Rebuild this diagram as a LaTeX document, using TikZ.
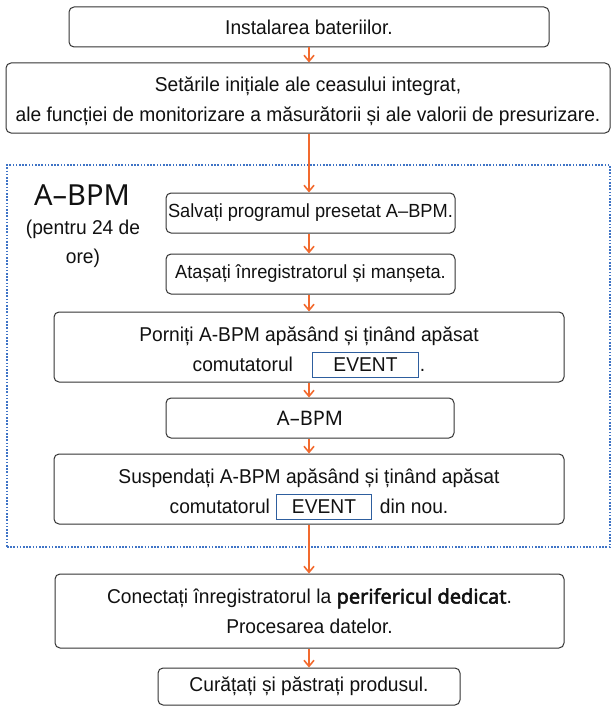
\documentclass[tikz,border=0pt]{standalone}
\usepackage{fontspec}
\setmainfont{Liberation Sans}[FakeStretch=0.96]
\newfontfamily\noto{Noto Sans}
\newfontfamily\notob{Noto Sans}[FakeBold=2.5]
\usetikzlibrary{arrows.meta}
\definecolor{arrorange}{HTML}{F26A2E}
\definecolor{dotblue}{HTML}{3F74C6}
\definecolor{evblue}{HTML}{2E5E9E}
\definecolor{txt}{HTML}{111111}
\newcommand\evbox[1]{{\setlength\fboxrule{1pt}\setlength\fboxsep{0pt}\fcolorbox{evblue}{white}{\makebox[#1pt]{\rule[-6pt]{0pt}{24pt}\fontsize{20}{24}\selectfont EVENT}}}}
\begin{document}
\begin{tikzpicture}[x=1pt,y=-1pt,
  box/.style={draw=black!80, line width=1pt, rounded corners=5pt, inner sep=0pt, align=center, text=txt, font=\fontsize{20}{30}\selectfont},
  twoline/.style={text height=48pt, text depth=0pt},
  flow/.style={draw=arrorange, line width=1.6pt, -{Straight Barb[length=6pt,width=10pt]}},
  grpbox/.style={draw=dotblue, line width=1.6pt, dash pattern=on 1.6pt off 1.6pt, inner sep=0pt},
  lbl/.style={text=txt, inner sep=0pt, align=center},
]
\useasboundingbox (0,0) rectangle (611,706);
\coordinate (ax) at (309,0);

\node[grpbox, minimum width=603pt, minimum height=382pt] (grp) at (308.5,356) {};

\node[box, minimum width=480pt, minimum height=40pt] (b1) at (309,27) {Instalarea bateriilor.};
\node[box, twoline, text height=47pt, minimum width=604pt, minimum height=70pt] (b2) at (308,98)
  {Setările inițiale ale ceasului integrat,\\ale funcției de monitorizare a măsurătorii și ale valorii de presurizare.};
\node[box, minimum width=289pt, minimum height=40pt, font=\fontsize{19}{30}\selectfont] (b3) at (310.5,213) {Salvați programul presetat A–BPM.};
\node[box, minimum width=289pt, minimum height=40pt, font=\fontsize{19}{30}\selectfont] (b4) at (310.5,274) {Atașați înregistratorul și manșeta.};
\node[box, twoline, minimum width=510pt, minimum height=70pt] (b5) at (309,347)
  {Porniți A-BPM apăsând și ținând apăsat\\comutatorul\hspace{19pt}\evbox{105}\hspace{1pt}.};
\node[box, minimum width=288pt, minimum height=40pt, font=\noto\fontsize{20}{24}\selectfont] (b6) at (310,418) {A–BPM};
\node[box, twoline, minimum width=510pt, minimum height=70pt] (b7) at (309,489)
  {Suspendați A-BPM apăsând și ținând apăsat\\comutatorul\hspace{6pt}\evbox{94}\hspace{8pt}din nou.};
\node[box, minimum width=509pt, minimum height=74pt] (b8) at (309.5,611)
  {Conectați înregistratorul la {\notob perifericul dedicat}.\\Procesarea datelor.};
\node[box, minimum width=302pt, minimum height=37pt] (b9) at (309,686.5) {Curățați și păstrați produsul.};

\node[lbl, font=\noto\fontsize{29}{30}\selectfont] (t1) at (82,195) {A–BPM};
\node[lbl, font=\fontsize{20}{24}\selectfont] (t2) at (83,229) {(pentru 24 de};
\node[lbl, font=\fontsize{20}{24}\selectfont] (t3) at (83,258) {ore)};

\draw[flow] (b1.south -| ax) -- (b2.north -| ax);
\draw[flow] (b2.south -| ax) -- (b3.north -| ax);
\draw[flow] (b3.south -| ax) -- (b4.north -| ax);
\draw[flow] (b4.south -| ax) -- (b5.north -| ax);
\draw[flow] (b5.south -| ax) -- (b6.north -| ax);
\draw[flow] (b6.south -| ax) -- (b7.north -| ax);
\draw[flow] (b7.south -| ax) -- (b8.north -| ax);
\draw[flow] (b8.south -| ax) -- (b9.north -| ax);
\end{tikzpicture}
\end{document}
